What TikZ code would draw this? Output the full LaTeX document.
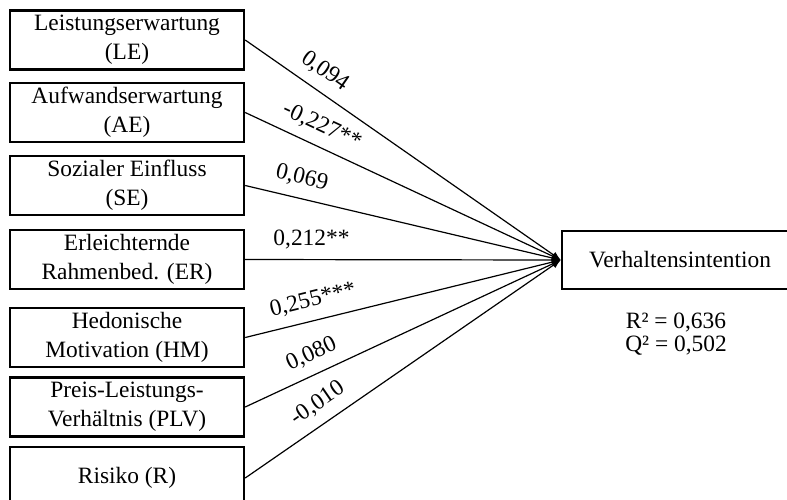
\documentclass[tikz,border=0pt]{standalone}
\usepackage{fontspec}
\setmainfont{Liberation Serif}
\usetikzlibrary{arrows.meta}

\begin{document}
\begin{tikzpicture}[x=0.5pt,y=-0.5pt,>={Latex[length=4.5pt,width=3.5pt]},font=\fontsize{11.7}{14.5}\selectfont]
\tikzstyle{box}=[rectangle,draw=black,line width=1.2pt,align=center,minimum width=117pt,minimum height=29.5pt,inner sep=2pt]
\tikzstyle{pfad}=[->,line width=0.6pt]
\tikzstyle{coef}=[sloped,above=3pt,inner sep=2pt]
\useasboundingbox (0,0) rectangle (787,499);
\node[box] (le) at (127,40) {Leistungserwartung\\(LE)};
\node[box] (ae) at (127,112.5) {Aufwandserwartung\\(AE)};
\node[box] (se) at (127,185.5) {Sozialer Einfluss\\(SE)};
\node[box] (er) at (127,259.5) {Erleichternde\\Rahmenbed. (ER)};
\node[box] (hm) at (127,337.5) {Hedonische\\Motivation (HM)};
\node[box] (plv) at (127,407) {Preis-Leistungs-\\Verhältnis (PLV)};
\node[box,minimum height=31pt] (ri) at (127,478) {Risiko (R)};
\node[box,minimum width=118pt,minimum height=29pt] (vi) at (680,260) {Verhaltensintention};
\node[align=center,font=\fontsize{11.7}{11.5}\selectfont] (guete) at (676,334) {R² = 0,636\\Q² = 0,502};
\draw[pfad] (le.east) -- node[coef,pos=0.217] {0,094} (vi.west);
\draw[pfad] (ae.east) -- node[coef,pos=0.216] {-0,227**} (vi.west);
\draw[pfad] (se.east) -- node[coef,pos=0.165] {0,069} (vi.west);
\draw[pfad] (er.east) -- node[coef,pos=0.21] {0,212**} (vi.west);
\draw[pfad] (hm.east) -- node[coef,pos=0.23] {0,255***} (vi.west);
\draw[pfad] (plv.east) -- node[coef,pos=0.237] {0,080} (vi.west);
\draw[pfad] (ri.east) -- node[coef,pos=0.266] {-0,010} (vi.west);
\end{tikzpicture}
\end{document}
